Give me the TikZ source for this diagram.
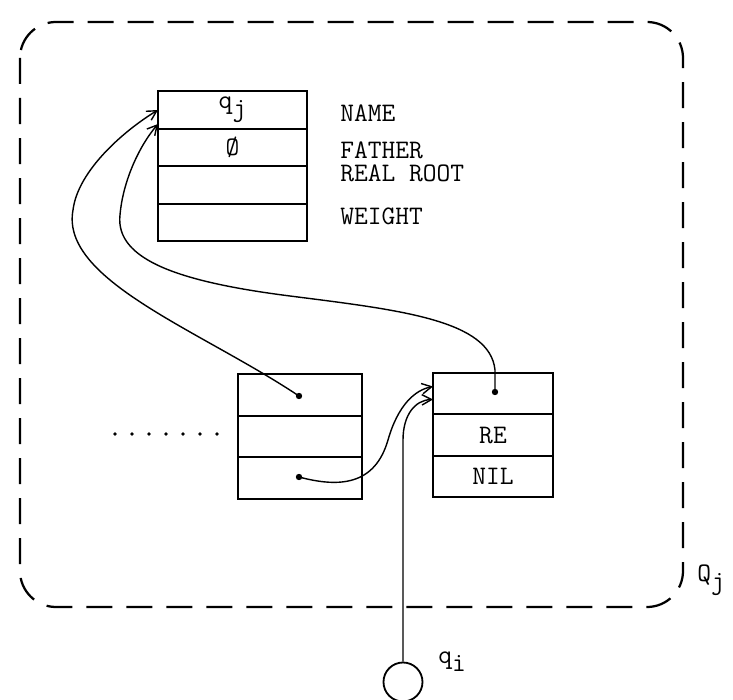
\documentclass[tikz,border=0pt]{standalone}
\usepackage{fontspec}
\usetikzlibrary{arrows.meta}
\newcommand{\subx}[2]{#1\raisebox{-0.7ex}{#2}}
\newcommand{\twfont}{\fontsize{19}{22}\selectfont\ttfamily}
\tikzset{
	>={Straight Barb[length=2.4mm,width=2.6mm]},
	cell/.style={draw, line width=1.3pt, inner sep=0pt, outer sep=0pt, font=\twfont},
	bigcell/.style={cell, minimum width=37.25mm, minimum height=9.375mm},
	listcell/.style={cell, minimum width=31mm, minimum height=10.4mm},
	fieldname/.style={anchor=west, inner sep=0pt, font=\twfont},
	ptr/.style={line width=1pt, ->},
	ptrdot/.style={circle, fill, inner sep=0pt, minimum size=1.6mm},
	boundary/.style={line width=1.6pt, dash pattern=on 6.5mm off 3.5mm, rounded corners=9mm},
}

\begin{document}
\begin{tikzpicture}[x=0.25mm, y=-0.25mm]
	\useasboundingbox (0,0) rectangle (733,700);
	
	% the set Q_j
	\draw[boundary] (20,22) rectangle (683,607);
	\node[fieldname] (setname) at (697,580) {\subx{Q}{j}};
	
	% root record
	\node[bigcell] (name) at (232.5,110) {\subx{q}{j}};
	\node[bigcell] (father) at (232.5,147.5) {\O};
	\node[bigcell] (realroot) at (232.5,185) {};
	\node[bigcell] (weight) at (232.5,222.5) {};
	\node[fieldname] (lname) at (340,113) {NAME};
	\node[fieldname] (lfather) at (340,150) {FATHER};
	\node[fieldname] (lreal) at (340,173) {REAL ROOT};
	\node[fieldname] (lweight) at (340,216) {WEIGHT};
	
	% list records
	\node[listcell] (la) at (300,395) {};
	\node[listcell] (lb) at (300,436.5) {};
	\node[listcell] (lc) at (300,478) {};
	\node[listcell, minimum width=30mm] (ra) at (493,393.5) {};
	\node[listcell, minimum width=30mm] (rb) at (493,435) {RE};
	\node[listcell, minimum width=30mm] (rc) at (493,476.5) {NIL};
	\foreach \x in {115,132,...,217}
		\fill (\x,434) circle (0.45mm);
	
	% pointers
	\node[ptrdot] (pa) at (299,396) {};
	\node[ptrdot] (pc) at (299,477) {};
	\node[ptrdot] (pr) at (495,392) {};
	\node[draw, circle, line width=1.3pt, minimum size=9.75mm, inner sep=0pt] (qi) at (403,682) {};
	\node[fieldname] (lqi) at (438,662) {\subx{q}{i}};
	
	\draw[ptr] (pa.center) .. controls (200,330) and (60,280) .. (73,210)
		.. controls (78,170) and (125,130) .. (name.west);
	\draw[ptr] (pr.center) -- ++(0,-22) .. controls (490,320) and (400,310) .. (290,296)
		.. controls (180,282) and (115,260) .. (120,215)
		.. controls (123,180) and (140,145) .. ([yshift=-3.5mm]name.west);
	\draw[ptr] (pc.center) .. controls (340,488) and (375,485) .. (388,440)
		.. controls (398,405) and (415,390) .. ([yshift=1.75mm]ra.west);
	\draw[ptr] (qi.north) -- (403,440) .. controls (403,415) and (415,400) .. ([yshift=-1.5mm]ra.west);
\end{tikzpicture}
\end{document}
